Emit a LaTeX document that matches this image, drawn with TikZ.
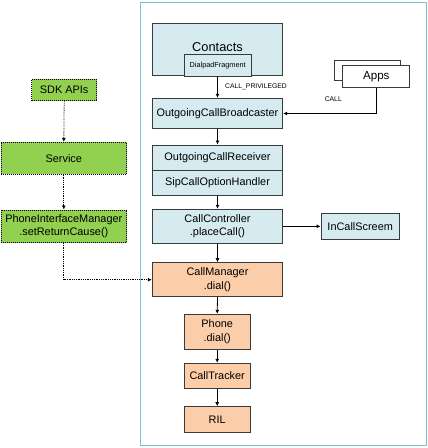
\documentclass[tikz,border=0pt]{standalone}
\usepackage{fontspec}
\setmainfont{Liberation Sans}
\usetikzlibrary{arrows.meta}
\definecolor{lblue}{HTML}{D5EBF0}
\definecolor{lorange}{HTML}{FBCDA8}
\definecolor{lgreen}{HTML}{92D050}
\definecolor{frame}{HTML}{7CC2D2}
\definecolor{edge}{HTML}{3A3A3A}
\tikzset{
  base/.style={draw=edge, line width=1pt, inner sep=0pt, align=center,
    font=\fontsize{10.9}{13.5}\selectfont},
  bluebox/.style={base, fill=lblue},
  orangebox/.style={base, fill=lorange},
  greenbox/.style={base, fill=lgreen, draw=black, densely dotted, line width=0.8pt},
  whitebox/.style={base, fill=white},
  conn/.style={draw=black, line width=0.8pt, -{Latex[length=4pt,width=4pt]}},
  dconn/.style={conn, densely dotted},
  lbl/.style={font=\fontsize{6.8}{8}\selectfont, inner sep=0pt},
}
\begin{document}
\begin{tikzpicture}[x=1pt,y=-1pt]
\useasboundingbox (0,0) rectangle (428,448);
% frame
\draw[frame, line width=1pt] (140,2) rectangle (426,445);
% main column
\node[bluebox, minimum width=130.4pt, minimum height=52.7pt] (contacts) at (217.5,49.35) {};
\node[font=\fontsize{12.8}{14}\selectfont, inner sep=0pt] (contactstext) at (217.5,47) {Contacts};
\node[bluebox, minimum width=66.7pt, minimum height=21.7pt, font=\fontsize{7.3}{8}\selectfont] (dialpad) at (217.7,65.8) {DialpadFragment};
\node[bluebox, minimum width=130.4pt, minimum height=30.4pt] (ocb) at (217.5,113.5) {OutgoingCallBroadcaster};
\node[bluebox, minimum width=130.4pt, minimum height=25pt] (ocr) at (217.5,157.5) {OutgoingCallReceiver};
\node[bluebox, minimum width=130.4pt, minimum height=25pt] (sip) at (217.5,182.5) {SipCallOptionHandler};
\node[bluebox, minimum width=130.4pt, minimum height=34pt] (cc) at (217.5,226.3) {CallController\\.placeCall()};
\node[bluebox, minimum width=78.3pt, minimum height=26pt] (incall) at (360.2,226.3) {InCallScreem};
\node[orangebox, minimum width=130.4pt, minimum height=34pt] (cm) at (217.5,279.7) {CallManager\\.dial()};
\node[orangebox, minimum width=65.7pt, minimum height=35pt] (phone) at (217.2,331.8) {Phone\\.dial()};
\node[orangebox, minimum width=65.7pt, minimum height=25pt] (tracker) at (217.2,375.8) {CallTracker};
\node[orangebox, minimum width=65.7pt, minimum height=25.6pt] (ril) at (217.2,419.5) {RIL};
% apps
\node[whitebox, minimum width=66pt, minimum height=20pt] (appsback) at (367,70.7) {};
\node[whitebox, minimum width=67.3pt, minimum height=21.6pt, font=\fontsize{11.6}{13}\selectfont] (apps) at (376.3,76.5) {Apps};
% left column
\node[greenbox, minimum width=65pt, minimum height=21.4pt] (sdk) at (64.2,90) {SDK APIs};
\node[greenbox, minimum width=125.7pt, minimum height=32pt] (service) at (63.8,158.3) {Service};
\node[greenbox, minimum width=125.7pt, minimum height=32.7pt] (pim) at (63.8,226.3) {PhoneInterfaceManager\\.setReturnCause()};
% labels
\node[lbl, anchor=west] (callpriv) at (225,87) {CALL\_PRIVILEGED};
\node[lbl] (calllbl) at (333.3,99) {CALL};
% connectors
\draw[conn] (contacts.south) -- (ocb.north);
\draw[conn] (apps.south) |- (ocb.east);
\draw[conn] (ocb.south) -- (ocr.north);
\draw[conn] (sip.south) -- (cc.north);
\draw[conn] (cc.east) -- (incall.west);
\draw[conn] (cc.south) -- (cm.north);
\draw[conn] (cm.south) -- (phone.north);
\draw[conn] (phone.south) -- (tracker.north);
\draw[conn] (tracker.south) -- (ril.north);
\draw[dconn] (sdk.south) -- (service.north);
\draw[dconn] (service.south) -- (pim.north);
\draw[dconn] (pim.south) |- (cm.west);
\end{tikzpicture}
\end{document}
